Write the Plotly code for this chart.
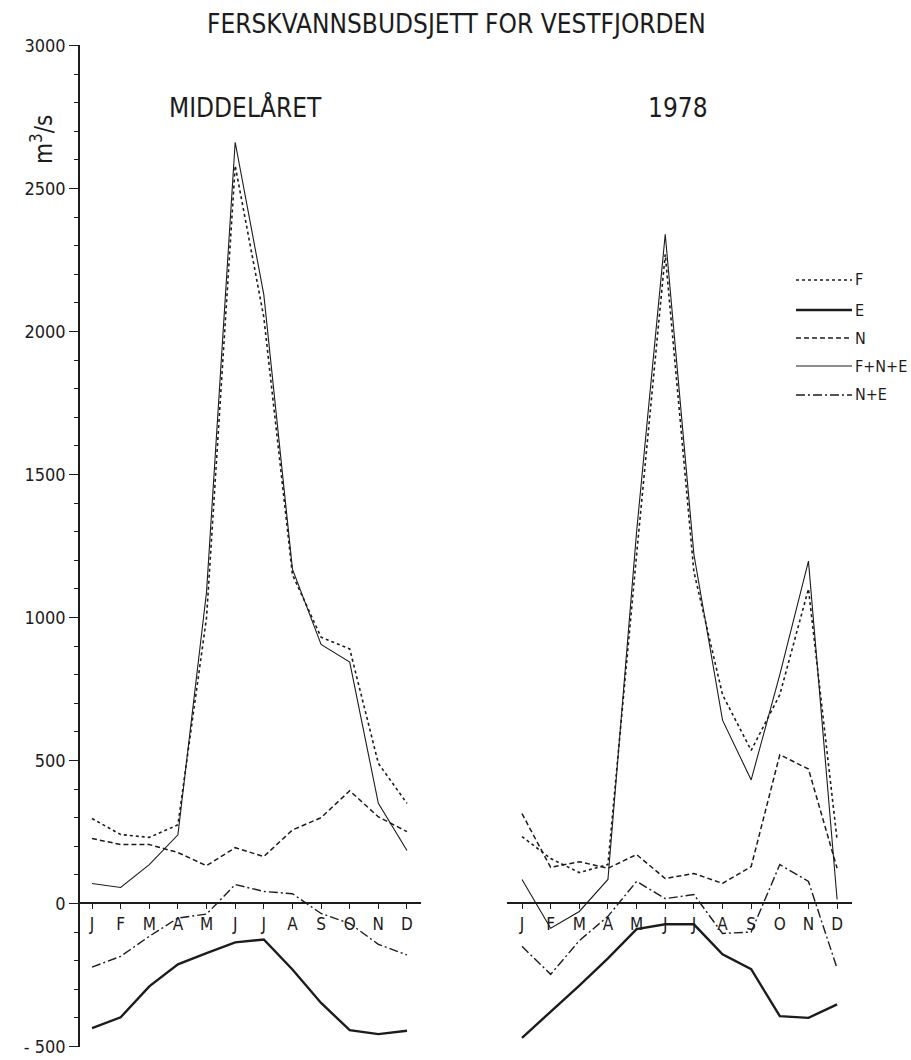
import plotly.graph_objects as go

# ---------------- data ----------------
months = ["J", "F", "M", "A", "M", "J", "J", "A", "S", "O", "N", "D"]
month_idx = list(range(12))

# MIDDELÅRET (mean year)
F_mid   = [297, 241, 231, 275, 1000, 2580, 2050, 1150, 931, 890, 490, 350]
E_mid   = [-436, -398, -290, -213, -174, -136, -126, -231, -348, -443, -457, -445]
N_mid   = [227, 206, 206, 178, 132, 195, 164, 257, 300, 394, 303, 251]
FNE_mid = [70, 56, 136, 240, 1090, 2662, 2129, 1169, 906, 844, 350, 185]
NE_mid  = [-223, -185, -115, -51, -37, 66, 42, 34, -35, -70, -143, -180]

# 1978
F_78   = [234, 157, 108, 136, 1220, 2270, 1160, 730, 535, 730, 1100, 222]
E_78   = [-470, -380, -287, -192, -90, -73, -73, -178, -230, -394, -400, -353]
N_78   = [314, 126, 146, 123, 171, 87, 105, 70, 129, 520, 470, 123]
FNE_78 = [84, -87, -28, 84, 1300, 2340, 1221, 641, 432, 800, 1197, 14]
NE_78  = [-150, -248, -130, -45, 77, 17, 31, -105, -100, 136, 77, -227]

series_names = ["F", "E", "N", "F+N+E", "N+E"]
y_tickvals = [-500, 0, 500, 1000, 1500, 2000, 2500, 3000]
y_ticktext = ["- 500", "0", "500", "1000", "1500", "2000", "2500", "3000"]
title_text = "FERSKVANNSBUDSJETT FOR VESTFJORDEN"
panel_titles = ["MIDDELÅRET", "1978"]
unit_text = "m<sup>3</sup>/s"

# ---------------- styles ----------------
INK = "#1c1c1c"
FONT = "DejaVu Sans Condensed, DejaVu Sans, sans-serif"
styles = {
    "F": dict(color=INK, width=1.6, dash="dot"),
    "E": dict(color=INK, width=2.4, dash="solid"),
    "N": dict(color=INK, width=1.5, dash="5px,3px"),
    "F+N+E": dict(color=INK, width=1.1, dash="solid"),
    "N+E": dict(color=INK, width=1.4, dash="9px,3px,2px,3px"),
}

W, H = 911, 1060
Y_MIN, Y_MAX = -502, 3002
yd0, yd1 = (H - 1047) / H, (H - 45) / H
zero_pos = yd0 + (0 - Y_MIN) / (Y_MAX - Y_MIN) * (yd1 - yd0)

fig = go.Figure()

panels = [
    ("x", [F_mid, E_mid, N_mid, FNE_mid, NE_mid]),
    ("x2", [F_78, E_78, N_78, FNE_78, NE_78]),
]
for xa, data in panels:
    for name, vals in zip(series_names, data):
        fig.add_trace(go.Scatter(
            x=month_idx, y=vals, mode="lines", name=name,
            line=styles[name], xaxis=xa, yaxis="y",
            showlegend=False, hoverinfo="x+y+name",
        ))

xcommon = dict(
    anchor="free", position=zero_pos, showline=True, linecolor=INK,
    linewidth=2, ticks="outside", ticklen=5, tickwidth=1.2, tickcolor=INK,
    tickmode="array", tickvals=month_idx, ticktext=months,
    showgrid=False, zeroline=False, ticklabeloverflow="allow",
    tickfont=dict(family=FONT, size=17, color=INK), automargin=False,
)

fig.update_layout(
    width=W, height=H, autosize=False,
    margin=dict(l=0, r=0, t=0, b=0),
    paper_bgcolor="white", plot_bgcolor="white",
    font=dict(family=FONT, color=INK),
    xaxis=dict(domain=[80 / W, 421 / W], range=[-0.42, 11.49], **xcommon),
    xaxis2=dict(domain=[507 / W, 852 / W], range=[-0.524, 11.52], **xcommon),
    yaxis=dict(
        domain=[yd0, yd1], range=[Y_MIN, Y_MAX], anchor="x",
        tickmode="array", tickvals=y_tickvals, ticktext=y_ticktext,
        ticks="outside", ticklen=9, tickwidth=1.2,
        tickcolor=INK, showline=True, linecolor=INK, linewidth=1.5,
        showgrid=False, zeroline=False, automargin=False,
        ticklabeloverflow="allow",
        tickfont=dict(family=FONT, size=18, color=INK),
        minor=dict(tickmode="linear", tick0=0, dtick=100, ticks="outside",
                   ticklen=4, tickwidth=1, tickcolor=INK, showgrid=False),
    ),
)

annots = [
    (title_text, 456, 24, 26, 0),
    (panel_titles[0], 245, 108, 26, 0),
    (panel_titles[1], 678, 108, 26, 0),
    (unit_text, 42, 140, 24, -90),
]
for text, px, py, size, ang in annots:
    fig.add_annotation(xref="paper", yref="paper", x=px / W, y=1 - py / H,
                       text=text, showarrow=False, textangle=ang,
                       xanchor="center", yanchor="middle",
                       font=dict(family=FONT, size=size, color=INK))

# legend (drawn as key lines + labels)
legend_rows = [280, 310, 338, 366, 395]
for name, py in zip(series_names, legend_rows):
    yp = 1 - py / H
    fig.add_shape(type="line", xref="paper", yref="paper",
                  x0=796 / W, x1=852 / W, y0=yp, y1=yp,
                  line=styles[name])
    fig.add_annotation(xref="paper", yref="paper", x=853 / W, y=yp,
                       text=name, showarrow=False,
                       xanchor="left", yanchor="middle",
                       font=dict(family=FONT, size=16, color=INK))

fig.write_html("out.html")
